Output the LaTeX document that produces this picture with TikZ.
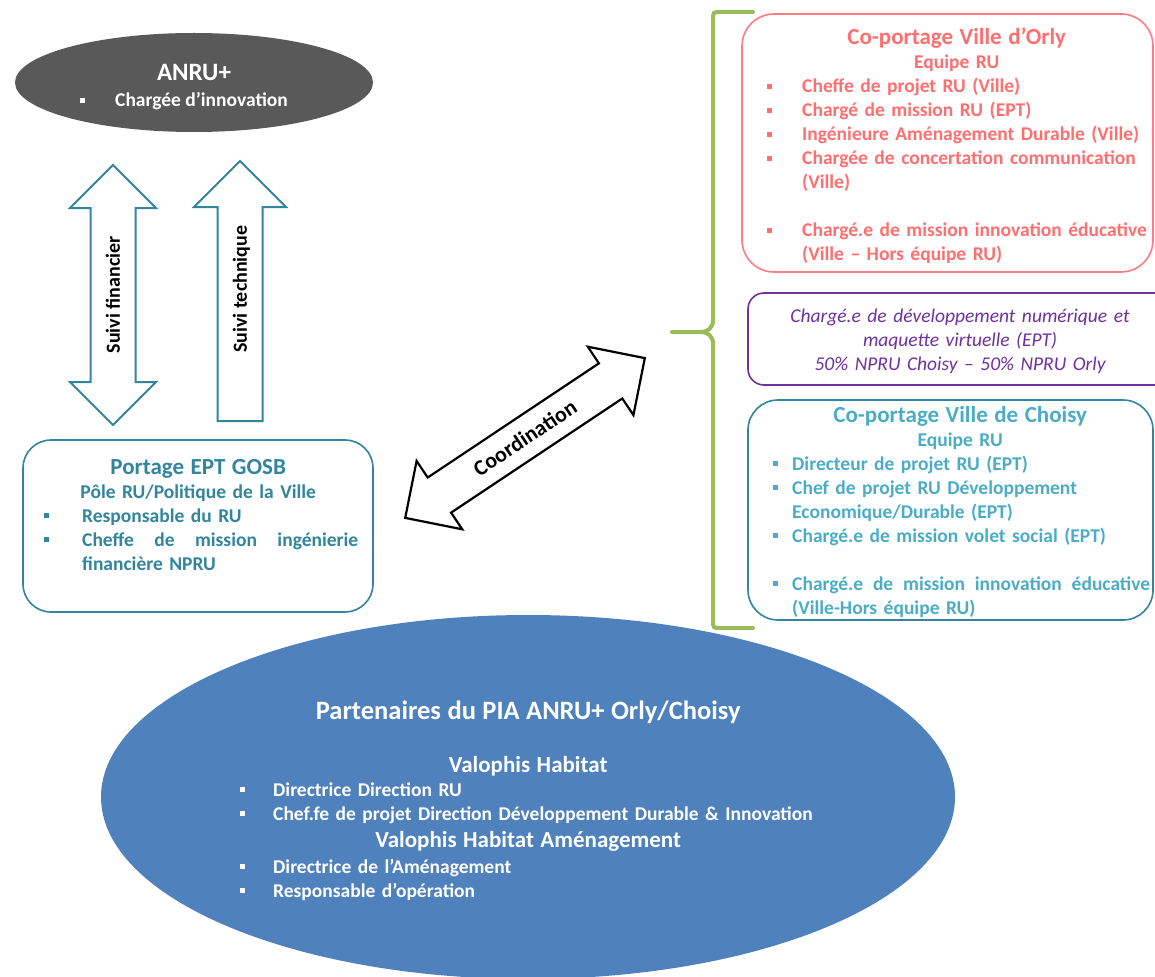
\documentclass[tikz,border=0pt]{standalone}
\usepackage{fontspec}
\setmainfont{Carlito}
\usetikzlibrary{shapes.arrows,shapes.geometric}

\definecolor{anrugray}{HTML}{595959}
\definecolor{suiviteal}{HTML}{31859C}
\definecolor{orlyred}{HTML}{FF7C80}
\definecolor{orlytext}{HTML}{FF6F6F}
\definecolor{numpurple}{HTML}{7030A0}
\definecolor{choisyline}{HTML}{31859C}
\definecolor{choisytext}{HTML}{4BACC6}
\definecolor{bracegreen}{HTML}{9BBB59}
\definecolor{partblue}{HTML}{4F81BD}

\newlength{\bulpos}
\newlength{\txtpos}
\newcommand{\sqbul}{\rule[0.22em]{0.26em}{0.26em}}
\newcommand{\lineitem}[1]{\par\hangindent=\txtpos\hangafter=1\noindent\makebox[\txtpos][l]{\hspace*{\bulpos}\sqbul}#1\par}
\newcommand{\boxtitle}[1]{{\centering\fontsize{23}{26}\selectfont #1\par}}
\newcommand{\boxsub}[1]{{\centering #1\par}}

\begin{document}
\begin{tikzpicture}[x=1pt,y=-1pt,
  bodytext/.style={font=\bfseries\fontsize{19.5}{24}\selectfont, inner sep=0pt, align=left},
  roundbox/.style={draw, line width=1.6pt, inner sep=0pt},
  blockarrow/.style={draw=suiviteal, line width=2pt, fill=white, text=black,
    font=\bfseries\fontsize{20}{22}\selectfont, text height=13.5pt, text depth=0pt,
    inner ysep=14.75pt, inner xsep=2pt},
  brace/.style={draw=bracegreen, line width=4pt, line cap=round}]

\path[use as bounding box, fill=white] (0,0) rectangle (1155,976);

% ANRU+
\node[ellipse, fill=anrugray, minimum width=358pt, minimum height=99pt, inner sep=0pt] (anru) at (194,82.5) {};
\node[bodytext, text=white, anchor=base, font=\bfseries\fontsize{25}{26}\selectfont] (anrutitle) at (194,81) {ANRU+};
\node[bodytext, text=white, anchor=base west] (anruitem) at (80,107) {\makebox[35pt][l]{\sqbul}Chargée d’innovation};

% suivi
\node[blockarrow, double arrow, double arrow head extend=20.5pt, minimum width=84pt,
  minimum height=260pt, rotate=90] (financier) at (113,295) {Suivi financier};
\node[blockarrow, single arrow, single arrow head extend=23.5pt, minimum width=90pt,
  minimum height=260pt, rotate=90, anchor=tail] (technique) at (240,422) {\hspace*{26pt}Suivi technique};

% portage EPT
\node[roundbox, draw=suiviteal, minimum width=350pt, minimum height=172pt, rounded corners=28pt] (portage) at (198,526) {};
\node[bodytext, text=suiviteal, text width=336pt, anchor=base west] (portagetext) at (30,474) {%
  \setlength{\bulpos}{14pt}\setlength{\txtpos}{52pt}%
  \boxtitle{Portage EPT GOSB}
  \boxsub{Pôle RU/Politique de la Ville}
  \lineitem{Responsable du RU}
  \lineitem{\makebox[276pt][s]{Cheffe\hfill de\hfill mission\hfill ingénierie}\newline financière NPRU}};

% coordination
\node[blockarrow, draw=black, double arrow, double arrow head extend=20pt, minimum width=80pt,
  minimum height=288pt, rotate=33.7, font=\bfseries\fontsize{22}{24}\selectfont,
  text height=15pt, inner ysep=12.5pt, line width=2.2pt] (coord) at (525,438) {Coordination};

% accolade
\draw[brace] (753,12) -- (721,12) .. controls (713,12) .. (713,20) -- (713,320)
  .. controls (713,328) and (708,332) .. (700,332) -- (672,332);
\draw[brace] (700,332) .. controls (708,332) and (713,336) .. (713,344) -- (713,620)
  .. controls (713,628) .. (721,628) -- (753,628);

% co-portage Orly
\node[roundbox, draw=orlyred, minimum width=411pt, minimum height=258pt, rounded corners=32pt] (orly) at (947.5,143) {};
\node[bodytext, text=orlytext, text width=393pt, anchor=base west] (orlytext) at (760,45) {%
  \setlength{\bulpos}{7pt}\setlength{\txtpos}{42pt}%
  \boxtitle{Co-portage Ville d’Orly}
  \boxsub{Equipe RU}
  \lineitem{Cheffe de projet RU (Ville)}
  \lineitem{Chargé de mission RU (EPT)}
  \lineitem{\mbox{Ingénieure Aménagement Durable (Ville)}}
  \lineitem{\mbox{Chargée de concertation communication}\newline (Ville)}
  \vspace{24pt}
  \lineitem{\mbox{Chargé.e de mission innovation éducative}\newline (Ville – Hors équipe RU)}};

% numerique
\node[roundbox, draw=numpurple, minimum width=427pt, minimum height=92pt, rounded corners=16pt] (numerique) at (961.5,339) {};
\node[inner sep=0pt, text=numpurple, font=\itshape\fontsize{19.5}{24}\selectfont, text width=420pt,
  align=center, anchor=base] (numtext) at (960,322)
  {Chargé.e de développement numérique et\\maquette virtuelle (EPT)\\50\% NPRU Choisy – 50\% NPRU Orly};

% co-portage Choisy
\node[roundbox, draw=choisyline, minimum width=405pt, minimum height=220pt, rounded corners=30pt] (choisy) at (950.5,510) {};
\node[bodytext, text=choisytext, text width=380pt, anchor=base west] (choisytext) at (770,422) {%
  \setlength{\bulpos}{3pt}\setlength{\txtpos}{22pt}%
  \boxtitle{Co-portage Ville de Choisy}
  \boxsub{Equipe RU}
  \lineitem{Directeur de projet RU (EPT)}
  \lineitem{\mbox{Chef de projet RU Développement}\newline Economique/Durable (EPT)}
  \lineitem{\mbox{Chargé.e de mission volet social (EPT)}}
  \vspace{24pt}
  \lineitem{\makebox[358pt][s]{Chargé.e\hfill de\hfill mission\hfill innovation\hfill éducative}\newline (Ville-Hors équipe RU)}};

% partenaires
\node[ellipse, fill=partblue, minimum width=854pt, minimum height=364pt, inner sep=0pt] (partenaires) at (528,797) {};
\node[bodytext, text=white, text width=576pt, anchor=base west] (parttext) at (240,719) {%
  \setlength{\bulpos}{0pt}\setlength{\txtpos}{33pt}%
  {\centering\fontsize{26.5}{28}\selectfont Partenaires du PIA ANRU+ Orly/Choisy\par}
  {\centering\fontsize{23}{53}\selectfont Valophis Habitat\par}
  \lineitem{Directrice Direction RU}
  \lineitem{\mbox{Chef.fe de projet Direction Développement Durable \& Innovation}}
  {\centering\fontsize{23}{27}\selectfont Valophis Habitat Aménagement\par}
  \vspace{2pt}
  \lineitem{Directrice de l’Aménagement}
  \lineitem{Responsable d’opération}};

\end{tikzpicture}
\end{document}
